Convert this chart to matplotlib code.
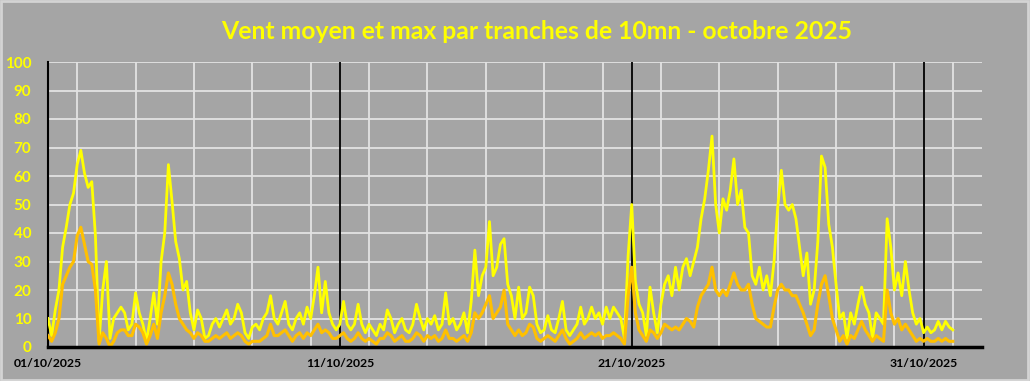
import pandas as pd
import matplotlib
matplotlib.use('Agg')
import matplotlib.pyplot as plt
import matplotlib.ticker as mticker
import matplotlib.dates as mdates
from matplotlib.patches import Rectangle

plt.rcParams['font.family'] = ['Lato', 'DejaVu Sans']

title = "Vent moyen et max par tranches de 10mn - octobre 2025"

# values read every 3 hours, one row per day (01/10 .. 31/10) + 01/11 00:00
vent_max = [
    10, 4, 13, 20, 35, 42, 50, 54,
    64, 69, 61, 56, 58, 39, 2, 20,
    30, 3, 10, 12, 14, 12, 6, 8,
    19, 12, 8, 2, 10, 19, 8, 30,
    40, 64, 51, 37, 31, 20, 23, 12,
    6, 13, 10, 3, 4, 8, 10, 7,
    10, 13, 8, 10, 15, 12, 5, 3,
    7, 8, 6, 10, 12, 18, 10, 8,
    12, 16, 8, 6, 10, 12, 8, 14,
    10, 18, 28, 12, 23, 12, 8, 6,
    8, 16, 8, 6, 8, 15, 8, 5,
    8, 6, 4, 8, 6, 13, 10, 5,
    8, 10, 6, 5, 8, 15, 10, 6,
    10, 8, 11, 6, 8, 19, 8, 10,
    6, 8, 12, 5, 16, 34, 18, 25,
    28, 44, 25, 28, 36, 38, 22, 18,
    10, 21, 10, 12, 21, 18, 8, 5,
    6, 11, 6, 5, 10, 16, 6, 4,
    6, 8, 14, 8, 10, 14, 10, 12,
    8, 14, 10, 14, 12, 10, 3, 32,
    50, 23, 15, 12, 4, 21, 12, 5,
    15, 22, 25, 18, 28, 20, 28, 31,
    25, 30, 35, 45, 52, 62, 74, 50,
    40, 52, 48, 55, 66, 50, 55, 42,
    40, 25, 22, 28, 20, 25, 18, 30,
    49, 62, 50, 48, 50, 45, 35, 25,
    33, 15, 20, 37, 67, 63, 43, 35,
    22, 10, 12, 3, 12, 8, 15, 21,
    15, 12, 3, 12, 10, 8, 45, 35,
    20, 26, 18, 30, 20, 12, 8, 10,
    5, 7, 5, 6, 9, 6, 9, 7,
    6,
]

vent_moyen = [
    4, 2, 5, 10, 22, 25, 28, 30,
    39, 42, 36, 30, 29, 20, 1, 5,
    3, 0, 2, 5, 6, 6, 4, 4,
    8, 7, 5, 1, 4, 8, 3, 12,
    18, 26, 22, 15, 10, 8, 6, 5,
    3, 5, 4, 2, 2, 3, 4, 3,
    4, 5, 3, 4, 5, 4, 2, 1,
    2, 2, 2, 3, 4, 8, 4, 4,
    5, 6, 4, 2, 4, 5, 3, 5,
    4, 6, 8, 5, 6, 5, 3, 3,
    4, 5, 3, 2, 3, 5, 3, 2,
    3, 2, 1, 3, 3, 5, 4, 2,
    3, 4, 2, 2, 3, 5, 4, 2,
    4, 3, 4, 2, 3, 6, 3, 3,
    2, 3, 4, 2, 5, 12, 10, 12,
    15, 18, 10, 12, 14, 20, 8, 6,
    4, 6, 4, 5, 8, 7, 3, 2,
    3, 4, 3, 2, 4, 6, 3, 1,
    2, 3, 5, 3, 4, 5, 4, 5,
    3, 4, 4, 5, 4, 3, 1, 18,
    28, 12, 6, 4, 2, 6, 5, 3,
    5, 8, 7, 6, 7, 6, 8, 10,
    9, 7, 14, 18, 20, 22, 28, 20,
    18, 20, 18, 22, 26, 22, 20, 20,
    22, 15, 10, 9, 8, 7, 7, 14,
    20, 22, 20, 20, 18, 18, 15, 12,
    8, 4, 6, 15, 22, 25, 18, 10,
    6, 2, 4, 1, 4, 3, 6, 9,
    6, 4, 2, 4, 3, 2, 20, 12,
    8, 10, 6, 8, 6, 4, 2, 3,
    2, 3, 2, 2, 3, 2, 3, 2,
    2,
]

dates = pd.date_range('2025-10-01', periods=len(vent_max), freq='3h')
label_dates = pd.to_datetime(['2025-10-01', '2025-10-11', '2025-10-21', '2025-10-31'])

bg = '#a5a5a5'
fig = plt.figure(figsize=(10.30, 3.81), dpi=100, facecolor=bg)
ax = fig.add_axes([48 / 1030, 34 / 381, 934 / 1030, 285 / 381])
ax.set_facecolor(bg)

# light border around the whole chart
fig.patches.append(Rectangle((0.001, 0.002), 0.997, 0.995, transform=fig.transFigure,
                             fill=False, edgecolor='#d4d4d4', linewidth=2))

ax.plot(dates, vent_max, color='#ffff00', linewidth=2.0, zorder=3)
ax.plot(dates, vent_moyen, color='#ffc000', linewidth=2.2, zorder=4)

ax.set_xlim(pd.Timestamp('2025-10-01'), pd.Timestamp('2025-11-02'))
ax.set_ylim(0, 100)

# grid: white every 2 days / 10 units, black at the labelled dates
ax.set_yticks(range(0, 101, 10))
ax.xaxis.set_major_locator(mticker.FixedLocator(mdates.date2num(label_dates)))
ax.xaxis.set_major_formatter(mdates.DateFormatter('%d/%m/%Y'))
ax.xaxis.set_minor_locator(mdates.DayLocator(interval=2))
ax.grid(True, axis='y', color='#e2e2e2', linewidth=1.3, zorder=1)
ax.grid(True, axis='x', which='minor', color='#e2e2e2', linewidth=1.3, zorder=1)
for d in label_dates[1:]:
    ax.axvline(d, color='black', linewidth=1.3, zorder=2)
ax.set_axisbelow(True)

ax.tick_params(axis='both', which='both', length=0)
ax.tick_params(axis='y', pad=12, labelcolor='#ffff00', labelsize=11)
ax.tick_params(axis='x', pad=8, labelcolor='black', labelsize=8.8)
for lbl in ax.get_yticklabels() + ax.get_xticklabels():
    lbl.set_fontweight('bold')

for side in ['top', 'right']:
    ax.spines[side].set_visible(False)
ax.spines['left'].set_color('black')
ax.spines['left'].set_linewidth(1.5)
ax.spines['bottom'].set_color('black')
ax.spines['bottom'].set_linewidth(2.5)
ax.spines['bottom'].set_zorder(5)

fig.text(0.521, 0.918, title, color='#ffff00', fontsize=17.8, fontweight='bold',
         ha='center', va='center')

fig.savefig('out.png', dpi=100, facecolor=bg)
